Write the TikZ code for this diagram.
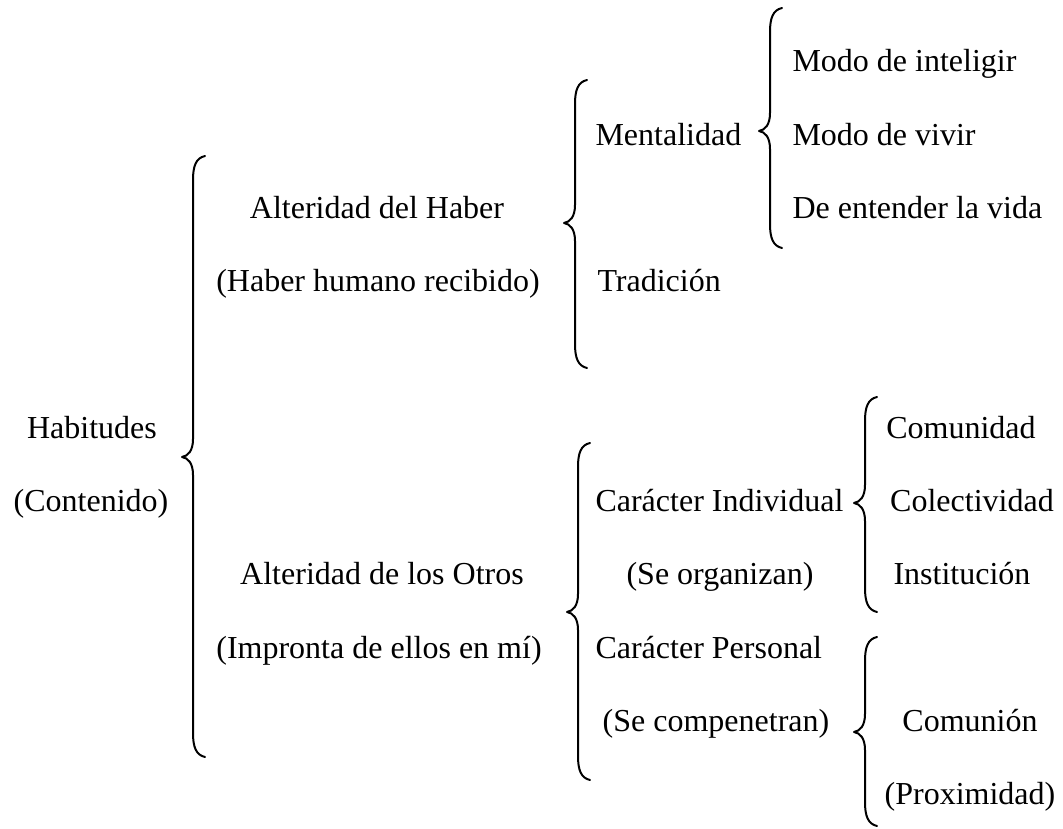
\documentclass[tikz,border=0pt]{standalone}
\usepackage{fontspec}
\setmainfont{Liberation Serif}
\newcommand{\brc}[4]{% #1 x of vertical line, #2 top, #3 tip, #4 bottom (pixels)
  \draw[bracestroke] ({#1+12},#2) .. controls ({#1+3},{#2+2}) and (#1,{#2+10}) .. (#1,{#2+24})
    -- (#1,{#3-18}) .. controls (#1,{#3-6}) and ({#1-5},{#3-1}) .. ({#1-11},#3)
    .. controls ({#1-5},{#3+1}) and (#1,{#3+6}) .. (#1,{#3+18})
    -- (#1,{#4-24}) .. controls (#1,{#4-10}) and ({#1+3},{#4-2}) .. ({#1+12},#4);}
\begin{document}
\begin{tikzpicture}[x=0.375pt,y=-0.375pt,
  lbl/.style={inner sep=0pt,font=\fontsize{12}{14}\selectfont},
  bracestroke/.style={line width=0.75pt,line cap=round,line join=round}]
\path[use as bounding box] (0,0) rectangle (1063,829);
% level 1
\node[lbl,anchor=base] (hab) at (92,438.5) {Habitudes};
\node[lbl,anchor=base] (cont) at (91,512) {(Contenido)};
\brc{193}{156}{457}{757}
% level 2
\node[lbl,anchor=base] (ahaber) at (377,218.6) {Alteridad del Haber};
\node[lbl,anchor=base] (hhum) at (378,292) {(Haber humano recibido)};
\node[lbl,anchor=base] (aotros) at (382,585) {Alteridad de los Otros};
\node[lbl,anchor=base] (impr) at (379,658.4) {(Impronta de ellos en mí)};
\brc{575}{80}{223}{368}
\brc{578}{443}{612}{780}
% level 3
\node[lbl,anchor=base west] (ment) at (595,145.3) {Mentalidad};
\node[lbl,anchor=base west] (trad) at (597,292) {Tradición};
\node[lbl,anchor=base west] (cind) at (595,512) {Carácter Individual};
\node[lbl,anchor=base] (sorg) at (720,585) {(Se organizan)};
\node[lbl,anchor=base west] (cper) at (595,658.4) {Carácter Personal};
\node[lbl,anchor=base] (scomp) at (716,732) {(Se compenetran)};
\brc{770}{8}{131}{248}
\brc{865}{397}{503}{612}
\brc{865}{637}{732}{826}
% level 4
\node[lbl,anchor=base west] (mint) at (792,72) {Modo de inteligir};
\node[lbl,anchor=base west] (mviv) at (792,145.3) {Modo de vivir};
\node[lbl,anchor=base west] (dent) at (792,218.6) {De entender la vida};
\node[lbl,anchor=base] (comu) at (961,438.5) {Comunidad};
\node[lbl,anchor=base] (colec) at (972,512) {Colectividad};
\node[lbl,anchor=base] (inst) at (962,585) {Institución};
\node[lbl,anchor=base] (comun) at (970,732) {Comunión};
\node[lbl,anchor=base] (prox) at (970,805) {(Proximidad)};
\end{tikzpicture}
\end{document}
